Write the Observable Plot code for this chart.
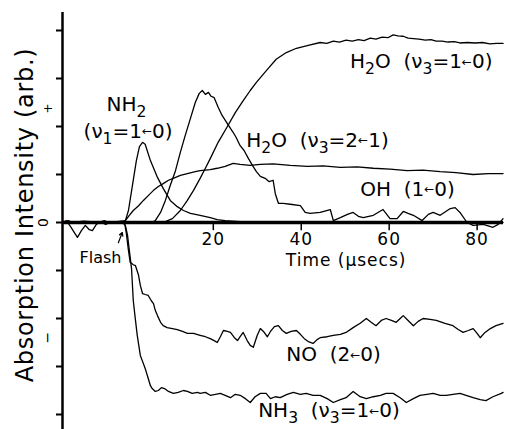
<!DOCTYPE html>
<html><head><meta charset="utf-8">
<script src="https://cdn.jsdelivr.net/npm/d3@7"></script>
<script src="https://cdn.jsdelivr.net/npm/@observablehq/plot@0.6"></script>
<style>body{margin:0;background:#fff} svg{display:block}</style>
</head><body><div id="chart"></div>
<script>
const xDomain = [-14.3, 86];
const yDomain = [-4.3125, 4.625];
const yAxisTop = 4.375;
const xTicks = [20, 40, 60, 80];
const yTicks = [-4, -3, -2, -1, 0, 1, 2, 3, 4];
const yTickLabels = [{v: 2.375, text: "+"}, {v: 0, text: "0"}, {v: -2.4, text: "−"}];
const yLabel = "Absorption Intensity (arb.)";
const xLabel = {t: 50.2, v: -0.8, text: "Time (µsecs)"};
const flashLabel = {t: -0.9, v: -0.73, text: "Flash"};
const flashArrow = {x1: -1.6, y1: -0.42, x2: -0.7, y2: -0.21};

// [time (µs), absorption (arb.)]
const nh2 = [[-14.3,0],[-13.0,0.04],[-11.6,-0.02],[-10.2,0.02],[-8.9,-0.02],[-7.5,0.02],[-6.1,0],[-4.8,0.04],[-3.4,-0.02],[-2.0,0.02],[-0.7,0],[0,0.04],[0.7,0.25],[1.6,0.77],[2.5,1.29],[3.2,1.58],[3.9,1.67],[4.5,1.63],[5.7,1.29],[7.3,0.94],[8.6,0.71],[10.2,0.46],[11.8,0.33],[13.2,0.25],[14.8,0.19],[17.0,0.15],[19.3,0.10],[20.9,0.06],[22.7,0.04],[26.1,0.02],[30.7,0],[39.8,0],[62.5,0],[85.9,0]];

const oh = [[-14.3,0.02],[-12.0,0],[-9.5,0.03],[-7.0,0.01],[-4.5,0],[-2.0,0.02],[0,0.04],[0.9,0.15],[1.8,0.25],[3.0,0.35],[4.1,0.46],[5.2,0.56],[6.4,0.67],[7.5,0.75],[8.6,0.81],[9.8,0.88],[10.9,0.92],[12.5,0.98],[14.1,1.02],[15.9,1.06],[17.0,1.08],[19.3,1.10],[20.9,1.13],[22.7,1.17],[24.5,1.23],[26.1,1.21],[28.4,1.19],[30.7,1.21],[33.6,1.22],[37.5,1.19],[41.4,1.17],[45.0,1.18],[48.9,1.15],[52.7,1.16],[56.4,1.13],[60.2,1.11],[64.1,1.08],[67.7,1.09],[71.6,1.06],[75.2,1.04],[79.1,1.00],[82.5,1.02],[85.9,1.02]];

const h2o10 = [[-14.3,0],[-11.0,-0.02],[-7.5,0.02],[-4.0,0],[-1.0,0.02],[0,0],[4.0,0.02],[8.0,0],[9.1,0.02],[10.7,0.08],[12.5,0.25],[14.1,0.46],[15.5,0.67],[17.0,0.92],[18.2,1.13],[19.3,1.33],[21.1,1.67],[23.2,2.0],[25.0,2.29],[26.8,2.54],[28.4,2.75],[29.8,2.92],[31.1,3.06],[32.5,3.21],[34.3,3.40],[36.6,3.54],[38.9,3.63],[41.6,3.69],[44.3,3.75],[45.8,3.73],[47.3,3.78],[48.7,3.76],[50.2,3.80],[51.6,3.78],[53.0,3.81],[54.3,3.79],[55.7,3.84],[57.0,3.82],[58.4,3.86],[59.7,3.85],[60.9,3.91],[62.0,3.89],[63.2,3.88],[64.3,3.84],[65.5,3.83],[66.8,3.82],[68.2,3.80],[69.5,3.81],[70.7,3.78],[72.0,3.78],[73.4,3.76],[74.8,3.77],[76.1,3.74],[77.8,3.75],[79.5,3.74],[81.2,3.75],[82.9,3.72],[84.4,3.73],[85.9,3.73]];

const h2o21 = [[-14.3,-0.02],[-11.5,0.02],[-8.5,0],[-5.5,0.02],[-2.5,-0.02],[0,0],[3.0,0.02],[6.1,0],[6.8,0.04],[8.0,0.21],[9.1,0.46],[10.2,0.77],[11.4,1.08],[12.5,1.46],[13.6,1.81],[14.8,2.17],[15.9,2.5],[16.8,2.69],[17.5,2.75],[18.2,2.67],[18.9,2.71],[19.5,2.63],[20.2,2.60],[21.1,2.40],[22.0,2.23],[23.2,2.06],[23.9,1.96],[24.5,1.88],[25.2,1.77],[26.1,1.60],[27.0,1.50],[28.0,1.33],[28.9,1.19],[29.8,1.06],[30.7,0.96],[31.8,0.92],[32.7,0.85],[33.6,0.88],[34.1,0.60],[34.8,0.40],[35.9,0.40],[37.5,0.38],[39.8,0.35],[40.9,0.21],[42.0,0.19],[44.3,0.21],[46.6,0.27],[47.3,0.04],[48.9,0.10],[50.5,0.17],[51.8,0.21],[53.0,0.13],[54.1,0.10],[56.4,0.15],[58.6,0.27],[60.2,0.08],[61.8,0.08],[63.2,0.23],[64.3,0.19],[65.5,0.15],[67.5,0.04],[68.9,0.17],[70.0,0.21],[71.6,0.15],[73.9,0.29],[75.0,0.31],[76.1,0.21],[77.7,0],[79.1,-0.06],[81.4,-0.04],[83.6,-0.10],[84.8,-0.04],[85.9,0.08]];

const no = [[-14.3,0],[-13.4,0.04],[-12.5,-0.08],[-11.6,-0.21],[-10.9,-0.31],[-10.0,-0.17],[-9.1,-0.06],[-8.2,-0.15],[-7.5,-0.17],[-6.6,-0.04],[-5.7,0.02],[-4.5,-0.04],[-3.4,0],[-2.3,0.02],[-1.1,-0.02],[-0.2,0],[0.2,-0.21],[0.7,-0.58],[1.1,-0.83],[1.8,-0.88],[2.3,-0.90],[3.0,-1.10],[3.4,-1.31],[3.9,-1.48],[4.5,-1.50],[5.2,-1.52],[5.9,-1.63],[6.4,-1.69],[6.8,-1.83],[7.3,-1.94],[8.0,-2.08],[8.6,-2.15],[9.5,-2.19],[10.7,-2.21],[11.8,-2.23],[13.0,-2.27],[14.1,-2.31],[15.5,-2.31],[17.0,-2.35],[18.2,-2.38],[19.3,-2.42],[20.2,-2.46],[20.9,-2.50],[21.6,-2.38],[22.3,-2.25],[23.2,-2.27],[23.9,-2.29],[24.8,-2.40],[25.5,-2.46],[26.1,-2.38],[26.8,-2.29],[27.7,-2.46],[28.4,-2.56],[29.1,-2.60],[30.0,-2.35],[30.7,-2.21],[31.4,-2.27],[32.3,-2.38],[33.0,-2.27],[33.9,-2.17],[34.8,-2.15],[35.7,-2.25],[36.6,-2.31],[37.7,-2.27],[38.9,-2.25],[39.8,-2.33],[40.7,-2.42],[41.6,-2.48],[42.7,-2.52],[43.6,-2.44],[44.3,-2.40],[45.9,-2.38],[47.3,-2.35],[48.9,-2.33],[50.2,-2.29],[51.8,-2.19],[53.4,-2.10],[54.8,-2.0],[55.9,-2.08],[57.0,-2.15],[58.2,-2.04],[59.3,-2.0],[60.5,-2.04],[61.6,-2.08],[62.5,-2.0],[63.2,-1.94],[64.3,-2.04],[65.5,-2.15],[66.6,-2.06],[67.7,-2.0],[69.3,-2.02],[70.7,-2.04],[72.7,-2.10],[74.5,-2.15],[75.7,-2.23],[76.8,-2.29],[78.0,-2.25],[79.1,-2.21],[80.0,-2.31],[80.7,-2.40],[81.8,-2.29],[83.0,-2.21],[84.3,-2.15],[85.9,-2.10]];

const nh3 = [[-14.3,0.02],[-11.0,0],[-8.0,0.02],[-5.0,-0.02],[-2.0,0],[-0.7,0],[0,-0.06],[0.5,-0.27],[0.9,-0.58],[1.4,-0.96],[1.8,-1.63],[2.3,-2.04],[2.7,-2.35],[3.4,-2.77],[4.1,-2.94],[4.5,-3.04],[5.2,-3.25],[5.7,-3.40],[6.1,-3.46],[6.8,-3.52],[7.5,-3.50],[8.2,-3.44],[8.9,-3.46],[9.8,-3.52],[10.9,-3.56],[12.0,-3.54],[13.2,-3.50],[14.1,-3.52],[15.2,-3.56],[16.4,-3.54],[17.0,-3.56],[18.2,-3.54],[19.3,-3.60],[20.5,-3.58],[21.6,-3.56],[22.7,-3.60],[23.9,-3.65],[25.0,-3.58],[26.1,-3.60],[27.3,-3.67],[28.4,-3.75],[29.5,-3.63],[30.7,-3.56],[32.0,-3.56],[33.0,-3.67],[34.1,-3.63],[35.2,-3.65],[36.8,-3.58],[38.2,-3.54],[39.8,-3.58],[41.1,-3.56],[42.7,-3.60],[44.3,-3.60],[45.9,-3.67],[47.3,-3.75],[48.9,-3.69],[50.2,-3.65],[51.8,-3.52],[53.4,-3.63],[54.8,-3.67],[56.4,-3.63],[58.0,-3.60],[59.3,-3.56],[60.9,-3.56],[62.5,-3.65],[63.9,-3.75],[65.5,-3.67],[67.0,-3.60],[68.6,-3.58],[70.0,-3.56],[71.6,-3.60],[73.0,-3.60],[74.5,-3.58],[76.1,-3.56],[77.5,-3.60],[79.1,-3.65],[80.7,-3.69],[82.0,-3.71],[83.6,-3.63],[85.5,-3.56],[85.9,-3.54]];

const seriesNames = ["NH2 (v1=1-0)", "OH (1-0)", "H2O (v3=1-0)", "H2O (v3=2-1)", "NO (2-0)", "NH3 (v3=1-0)"];
const seriesData = [nh2, oh, h2o10, h2o21, no, nh3];

const labels = [
  {t: -4.3, v: 2.46, text: "NH₂"},
  {t: -9.5, v: 1.90, text: "(ν₁=1←0)"},
  {t: 51.1, v: 3.35, text: "H₂O\u00a0\u00a0(ν₃=1←0)"},
  {t: 27.5, v: 1.71, text: "H₂O\u00a0\u00a0(ν₃=2←1)"},
  {t: 53.4, v: 0.69, text: "OH\u00a0\u00a0(1←0)"},
  {t: 36.6, v: -2.75, text: "NO\u00a0\u00a0(2←0)"},
  {t: 30.2, v: -3.92, text: "NH₃\u00a0\u00a0(ν₃=1←0)"}
];

const table = seriesData.flatMap((arr, i) => arr.map(([t, v]) => ({name: seriesNames[i], t, v})));

const chart = Plot.plot({
  width: 506, height: 429,
  marginTop: 0, marginBottom: 0, marginLeft: 62, marginRight: 3,
  x: {domain: xDomain, axis: null},
  y: {domain: yDomain, axis: null, label: null},
  style: {fontFamily: "'DejaVu Sans', sans-serif", background: "white", overflow: "visible", color: "black"},
  marks: [
    Plot.line(table, {x: "t", y: "v", z: "name", stroke: "black", strokeWidth: 1.3}),
    Plot.ruleY([0], {strokeWidth: 3.5}),
    Plot.ruleX([xDomain[0]], {y1: yAxisTop, y2: yDomain[0], strokeWidth: 2.5}),
    Plot.axisY({ticks: yTicks, anchor: "left", tickSize: 6, tickFormat: () => "", strokeWidth: 2, label: null}),
    Plot.ruleX(xTicks, {x: d => d, y1: 0, y2: -0.17, strokeWidth: 1.5}),
    Plot.text(xTicks, {x: d => d, y: 0, dy: 17, text: d => String(d), fontSize: 17}),
    Plot.text(yTickLabels.filter(d => d.text === "+"), {frameAnchor: "left", textAnchor: "middle", y: "v", text: "text", dx: -14, rotate: -90, fontSize: 12}),
    Plot.text(yTickLabels.filter(d => d.text === "0"), {frameAnchor: "left", textAnchor: "middle", y: "v", text: "text", dx: -19, rotate: -90, fontSize: 14}),
    Plot.text(yTickLabels.filter(d => d.text === "−"), {frameAnchor: "left", textAnchor: "middle", y: "v", text: "text", dx: -15, rotate: -90, fontSize: 14}),
    Plot.text([yLabel], {frameAnchor: "left", textAnchor: "middle", dx: -37, rotate: -90, fontSize: 24, text: d => d}),
    Plot.text([xLabel], {x: "t", y: "v", text: "text", fontSize: 17}),
    Plot.text([flashLabel], {x: "t", y: "v", text: "text", fontSize: 16, textAnchor: "end"}),
    Plot.arrow([flashArrow], {x1: "x1", y1: "y1", x2: "x2", y2: "y2", headLength: 6, strokeWidth: 1.2}),
    Plot.text(labels, {x: "t", y: "v", text: "text", textAnchor: "start", fontSize: 20})
  ]
});
document.getElementById("chart").appendChild(chart);

// typographic touch-ups: subscripts and small arrows as tspans, letter spacing
const subMap = {"₀":"0","₁":"1","₂":"2","₃":"3","₄":"4","₅":"5","₆":"6","₇":"7","₈":"8","₉":"9"};
const NS = "http://www.w3.org/2000/svg";
chart.querySelectorAll("text").forEach(el => {
  const s = el.textContent;
  if (s === yLabel) el.style.letterSpacing = "0.7px";
  if (s === xLabel.text) el.style.letterSpacing = "1px";
  if (/^\d\d$/.test(s)) el.style.letterSpacing = "1px";
  if (!/[₀-₉←]/.test(s)) return;
  const fs = parseFloat(getComputedStyle(el).fontSize) || 20;
  el.textContent = "";
  let shift = 0;
  s.split(/([₀-₉]+|←)/).forEach(part => {
    if (!part) return;
    const ts = document.createElementNS(NS, "tspan");
    let target = 0;
    if (/[₀-₉]/.test(part)) {
      ts.textContent = part.replace(/[₀-₉]/g, c => subMap[c]);
      ts.setAttribute("font-size", (fs * 0.78).toFixed(1));
      target = fs * 0.3;
    } else if (part === "←") {
      ts.textContent = part;
      ts.setAttribute("font-size", (fs * 0.6).toFixed(1));
      target = -fs * 0.12;
    } else {
      ts.textContent = part;
    }
    if (target !== shift) { ts.setAttribute("dy", (target - shift).toFixed(2)); shift = target; }
    el.appendChild(ts);
  });
});
</script>
</body></html>
